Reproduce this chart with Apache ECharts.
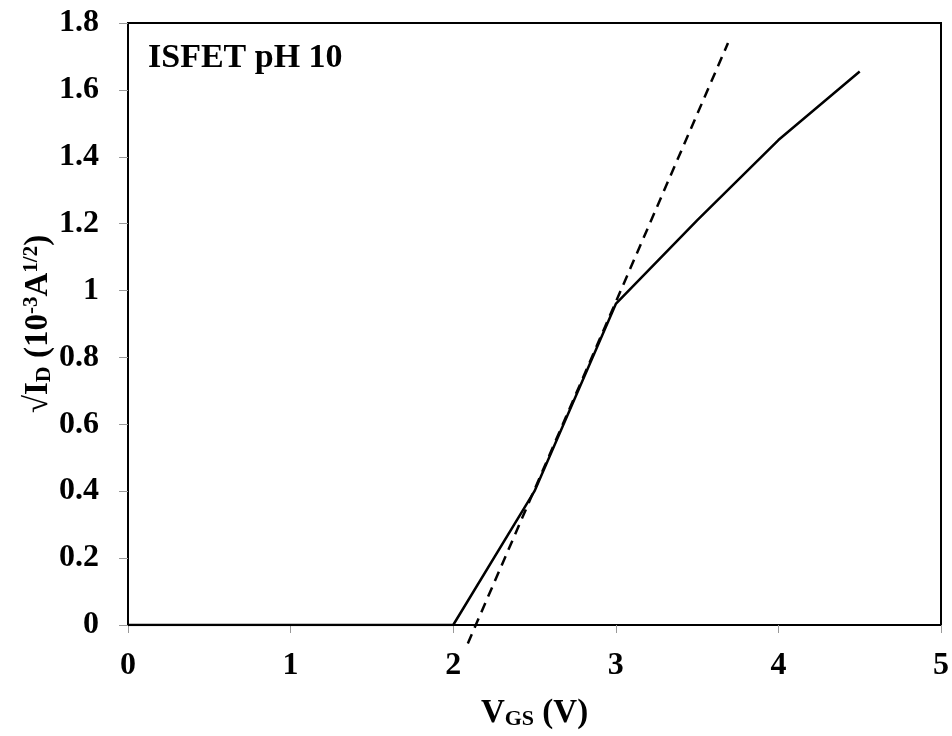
<!doctype html>
<html>
<head>
    <meta http-equiv="Content-Type" content="text/html; charset=utf-8">
    <title>ISFET pH 10</title>
    <script src="https://cdn.jsdelivr.net/npm/echarts@6/dist/echarts.min.js"></script>
    <style>
        html, body { margin: 0; padding: 0; background: #fff; }
        #chart { width: 952px; height: 736px; }
    </style>
</head>
<body>
<div id="chart"></div>
<script type="text/javascript">

    // measured curve
    var vgs = [0, 2, 2.5, 3, 3.5, 4, 4.5];
    var sqrtId = [0, 0, 0.40, 0.96, 1.21, 1.45, 1.655];
    // linear fit (dashed)
    var fitX = [2.09, 3.69];
    var fitY = [-0.055, 1.74];

    function pairs(xs, ys) {
        var out = [];
        for (var i = 0; i < xs.length; i++) out.push([xs[i], ys[i]]);
        return out;
    }

    var font = 'Liberation Serif';
    var myChart = echarts.init(document.getElementById('chart'));
    var option = {
        animation: false,
        backgroundColor: '#fff',
        title: {
            text: 'ISFET pH 10',
            left: 143,
            top: 36,
            textStyle: { fontFamily: font, fontWeight: 'bold', fontSize: 34, color: '#000' }
        },
        grid: {
            left: 128, right: 10, top: 23, bottom: 111,
            show: true, borderColor: '#000', borderWidth: 2
        },
        xAxis: {
            type: 'value',
            min: 0, max: 5, interval: 1,
            name: '{m|V}{s|GS}{m| (V)}',
            nameLocation: 'middle',
            nameGap: 71,
            nameMoveOverlap: false,
            nameTextStyle: {
                fontFamily: font, fontWeight: 'bold', color: '#000',
                rich: {
                    m: { fontFamily: font, fontWeight: 'bold', fontSize: 33, lineHeight: 34, color: '#000' },
                    s: { fontFamily: font, fontWeight: 'bold', fontSize: 22, lineHeight: 20, verticalAlign: 'bottom', color: '#000' }
                }
            },
            axisLine: { lineStyle: { color: '#000', width: 2 } },
            axisTick: { show: true, inside: false, length: 8, lineStyle: { color: '#999', width: 1 } },
            axisLabel: { margin: 25, fontFamily: font, fontWeight: 'bold', fontSize: 32, color: '#000' },
            splitLine: { show: false }
        },
        yAxis: {
            type: 'value',
            min: 0, max: 1.8, interval: 0.2,
            name: '{m|√I}{s|D}{m| (10}{u|-3}{m|A}{u|1/2}{m|)}',
            nameLocation: 'middle',
            nameRotate: 90,
            nameGap: 73,
            nameMoveOverlap: false,
            nameTextStyle: {
                fontFamily: font, fontWeight: 'bold', color: '#000',
                rich: {
                    m: { fontFamily: font, fontWeight: 'bold', fontSize: 33, lineHeight: 34, color: '#000' },
                    s: { fontFamily: font, fontWeight: 'bold', fontSize: 22, lineHeight: 20, verticalAlign: 'bottom', color: '#000' },
                    u: { fontFamily: font, fontWeight: 'bold', fontSize: 21, lineHeight: 20, verticalAlign: 'top', color: '#000' }
                }
            },
            axisLine: { show: true, lineStyle: { color: '#000', width: 2 } },
            axisTick: { show: true, inside: false, length: 9, lineStyle: { color: '#999', width: 1 } },
            axisLabel: { margin: 29, fontFamily: font, fontWeight: 'bold', fontSize: 32, color: '#000' },
            splitLine: { show: false }
        },
        series: [
            {
                name: 'measured',
                type: 'line',
                data: pairs(vgs, sqrtId),
                symbol: 'none',
                lineStyle: { color: '#000', width: 2.5 }
            },
            {
                name: 'fit',
                type: 'line',
                data: pairs(fitX, fitY),
                symbol: 'none',
                clip: false,
                lineStyle: { color: '#000', width: 2.5, type: [10, 7] }
            }
        ]
    };
    myChart.setOption(option);

</script>
</body>
</html>
